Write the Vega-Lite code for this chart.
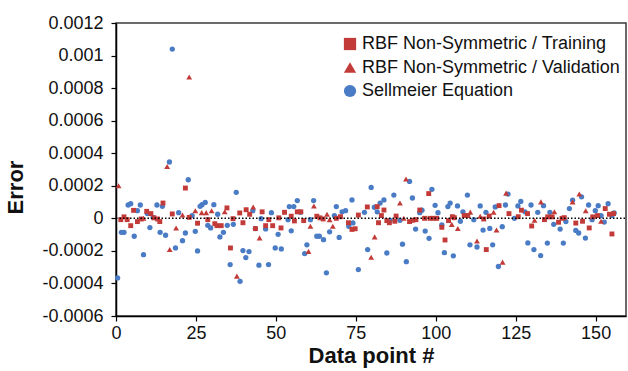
{
"$schema": "https://vega.github.io/schema/vega-lite/v6.json",
"width": 510, "height": 293,
"autosize": {"type": "none"},
"padding": {"left": 116, "top": 23, "right": 2, "bottom": 55},
"background": "#ffffff",
"config": {
  "font": "Liberation Sans",
  "view": {"stroke": "#3a3a3a", "strokeWidth": 1.5},
  "axis": {"domainColor": "#000000", "domainWidth": 1.5, "tickColor": "#000000", "tickWidth": 1.2, "tickSize": 5, "grid": false, "labelFontSize": 18, "labelColor": "#111111", "titleFontSize": 22, "titleFontWeight": "bold", "titleColor": "#111111", "labelBound": false, "labelFlush": false, "labelOverlap": false},
  "legend": {"orient": "none", "legendX": 225, "legendY": 12, "padding": 0, "labelFontSize": 18, "labelColor": "#111111", "symbolSize": 150, "rowPadding": 5.5, "labelOffset": 3, "symbolStrokeWidth": 0, "labelLimit": 400}
},
"datasets": {
  "sell": [
{"n":0.5,"e":-0.000366},{"n":1.7,"e":-0.000086},{"n":2.5,"e":-0.000086},{"n":3.8,"e":0.000082},{"n":4.6,"e":0.00009},{"n":5.7,"e":-0.00011},{"n":6.7,"e":0.000047},{"n":7.6,"e":0.000082},{"n":8.6,"e":-0.000223},{"n":9.8,"e":0.000029},{"n":10.6,"e":-0.000057},{"n":11.6,"e":0.000006},{"n":12.8,"e":0.000082},{"n":13.8,"e":-0.000086},{"n":14.5,"e":0.000074},{"n":15.5,"e":-0.000104},{"n":16.7,"e":0.000346},{"n":17.6,"e":0.00104},{"n":18.6,"e":-0.000182},{"n":19.6,"e":0.000035},{"n":20.8,"e":-0.000137},{"n":21.7,"e":-0.00009},{"n":22.6,"e":0.000237},{"n":23.8,"e":0.000017},{"n":24.8,"e":-0.00008},{"n":25.5,"e":-0.0002},{"n":26.3,"e":0.000074},{"n":26.9,"e":0.000084},{"n":27.9,"e":0.000098},{"n":28.7,"e":-0.000043},{"n":29.6,"e":-0.000059},{"n":30.6,"e":0.000084},{"n":31.8,"e":0.000025},{"n":32.5,"e":-0.000114},{"n":33.6,"e":-0.000086},{"n":34.8,"e":-0.000043},{"n":35.7,"e":-0.000284},{"n":36.7,"e":-0.000037},{"n":37.6,"e":0.00016},{"n":38.8,"e":-0.000387},{"n":39.7,"e":-0.000198},{"n":40.6,"e":-0.000241},{"n":41.6,"e":-0.000204},{"n":42.8,"e":0.000047},{"n":43.6,"e":-0.000063},{"n":44.7,"e":-0.000288},{"n":45.4,"e":-0.000002},{"n":46.8,"e":-0.000065},{"n":47.7,"e":-0.000284},{"n":48.6,"e":0.000035},{"n":49.8,"e":-0.000182},{"n":50.7,"e":-0.000098},{"n":51.7,"e":-0.000188},{"n":53.8,"e":-0.000008},{"n":54.2,"e":0.000072},{"n":54.8,"e":-0.000077},{"n":55.6,"e":0.000072},{"n":56.7,"e":0.000109},{"n":57.7,"e":0.000037},{"n":59.0,"e":-0.000217},{"n":59.7,"e":-0.000163},{"n":60.8,"e":-0.000008},{"n":61.8,"e":0.000109},{"n":62.8,"e":-0.00011},{"n":63.6,"e":-0.00011},{"n":64.9,"e":-0.000131},{"n":65.8,"e":-0.000335},{"n":66.8,"e":-0.000083},{"n":68.3,"e":0.000017},{"n":68.9,"e":0.000072},{"n":69.8,"e":-0.000117},{"n":70.7,"e":0.00004},{"n":71.8,"e":0.000047},{"n":72.8,"e":-0.000049},{"n":73.8,"e":0.000113},{"n":74.1,"e":-0.000028},{"n":75.8,"e":-0.000315},{"n":77.7,"e":0.000037},{"n":78.7,"e":-0.000192},{"n":79.8,"e":0.00019},{"n":80.8,"e":0.000068},{"n":81.7,"e":0.00004},{"n":82.6,"e":0.000094},{"n":83.8,"e":0.000113},{"n":84.7,"e":-0.000213},{"n":85.7,"e":-0.000012},{"n":86.9,"e":0.000143},{"n":88.8,"e":-0.000012},{"n":89.6,"e":-0.000159},{"n":90.8,"e":-0.000266},{"n":91.8,"e":0.000227},{"n":92.7,"e":0.000125},{"n":93.7,"e":-0.000066},{"n":95.0,"e":0.000035},{"n":95.7,"e":0.00005},{"n":96.7,"e":-0.000078},{"n":97.9,"e":-0.000123},{"n":98.8,"e":0.000178},{"n":99.8,"e":0.00008},{"n":100.7,"e":0.000035},{"n":101.9,"e":-0.000041},{"n":102.7,"e":-0.000211},{"n":103.8,"e":0.000072},{"n":104.5,"e":0.000094},{"n":105.5,"e":-0.00023},{"n":106.8,"e":0.000076},{"n":107.7,"e":-0.000018},{"n":108.5,"e":0.00004},{"n":109.9,"e":0.000143},{"n":110.7,"e":-0.000163},{"n":111.9,"e":-0.000008},{"n":112.9,"e":-0.000176},{"n":113.9,"e":0.000076},{"n":114.8,"e":-0.000072},{"n":115.7,"e":0.000037},{"n":116.9,"e":-0.000062},{"n":117.8,"e":-0.000163},{"n":118.6,"e":0.00007},{"n":119.6,"e":-0.000296},{"n":120.8,"e":-0.000051},{"n":121.8,"e":0.000082},{"n":122.6,"e":0.000149},{"n":124.6,"e":0},{"n":125.7,"e":0.000076},{"n":126.6,"e":0.000104},{"n":127.9,"e":0.00004},{"n":128.8,"e":-0.000151},{"n":129.8,"e":0.000082},{"n":130.7,"e":-0.000192},{"n":131.9,"e":0.000037},{"n":132.8,"e":-0.000229},{"n":133.7,"e":0.000078},{"n":134.9,"e":-0.000152},{"n":135.7,"e":0.000037},{"n":136.9,"e":-0.000037},{"n":138.9,"e":-0.000066},{"n":139.9,"e":-0.000152},{"n":140.7,"e":-0.00002},{"n":141.8,"e":0.00006},{"n":142.8,"e":0.000111},{"n":143.8,"e":-0.000074},{"n":144.7,"e":-0.00009},{"n":145.6,"e":0.000132},{"n":146.8,"e":-0.000121},{"n":147.8,"e":0.000082},{"n":148.9,"e":-0.000008},{"n":149.9,"e":0.000047},{"n":150.8,"e":0.000078},{"n":151.7,"e":0.000017},{"n":152.7,"e":-0.000023},{"n":153.9,"e":0.00009},{"n":155.1,"e":0.000017},{"n":155.8,"e":0.000033}
  ],
  "train": [
{"n":1.5,"e":-0.000008},{"n":2.5,"e":0.000009},{"n":3.5,"e":-0.000008},{"n":4.6,"e":-0.000045},{"n":5.5,"e":0.000049},{"n":6.7,"e":-0.00002},{"n":7.9,"e":-0.000004},{"n":9.6,"e":0.000043},{"n":10.9,"e":0.000029},{"n":11.9,"e":0.000003},{"n":13.0,"e":-0.000004},{"n":13.7,"e":-0.00002},{"n":14.7,"e":0.000094},{"n":17.6,"e":0.000027},{"n":21.7,"e":0.000186},{"n":22.9,"e":0.000006},{"n":25.5,"e":-0.00003},{"n":28.7,"e":-0.000008},{"n":30.9,"e":-0.000033},{"n":31.6,"e":-0.000045},{"n":32.9,"e":-0.000045},{"n":34.7,"e":0.000064},{"n":35.8,"e":-0.000182},{"n":36.6,"e":-0.000002},{"n":38.7,"e":0.000033},{"n":39.7,"e":-0.000027},{"n":40.7,"e":0.000053},{"n":41.8,"e":0.000025},{"n":43.6,"e":-0.000063},{"n":45.7,"e":0.00004},{"n":46.8,"e":-0.000045},{"n":47.8,"e":-0.000008},{"n":49.0,"e":-0.000045},{"n":50.9,"e":0.000003},{"n":51.6,"e":-0.000059},{"n":52.7,"e":0.000037},{"n":54.8,"e":0.000013},{"n":55.8,"e":-0.000016},{"n":56.7,"e":0.00004},{"n":57.8,"e":0.00004},{"n":58.7,"e":-0.000014},{"n":62.8,"e":0.000013},{"n":63.8,"e":0.000003},{"n":64.8,"e":-0.000004},{"n":68.9,"e":0},{"n":70.2,"e":0.00001},{"n":72.7,"e":-0.000027},{"n":73.8,"e":-0.000068},{"n":74.8,"e":-0.000064},{"n":75.8,"e":0.00002},{"n":78.6,"e":0.00007},{"n":81.7,"e":0.000072},{"n":82.1,"e":-0.000027},{"n":83.0,"e":0.000017},{"n":83.8,"e":0.000051},{"n":84.7,"e":-0.000014},{"n":85.5,"e":-0.000027},{"n":87.2,"e":-0.000018},{"n":87.6,"e":0.000014},{"n":91.8,"e":-0.00002},{"n":92.8,"e":-0.000012},{"n":93.8,"e":-0.000008},{"n":95.0,"e":0.000051},{"n":96.5,"e":0},{"n":97.8,"e":0.000152},{"n":98.2,"e":0},{"n":99.3,"e":0},{"n":100.3,"e":0},{"n":101.9,"e":-0.000055},{"n":102.9,"e":-0.000133},{"n":104.0,"e":-0.000014},{"n":105.2,"e":0.00001},{"n":105.8,"e":0.000004},{"n":108.9,"e":0.000017},{"n":110.0,"e":0.000017},{"n":115.0,"e":-0.000004},{"n":115.8,"e":-0.000192},{"n":116.7,"e":0.000014},{"n":119.8,"e":0.000078},{"n":122.9,"e":0.000029},{"n":125.8,"e":0.00001},{"n":126.8,"e":0.00005},{"n":128.7,"e":0.000029},{"n":130.0,"e":-0.000047},{"n":134.0,"e":-0.000008},{"n":135.0,"e":0.000009},{"n":136.4,"e":0.000009},{"n":138.4,"e":-0.000024},{"n":139.5,"e":0},{"n":140.2,"e":0.000004},{"n":143.8,"e":-0.000029},{"n":145.9,"e":-0.000018},{"n":148.0,"e":-0.000059},{"n":149.1,"e":0.000009},{"n":150.6,"e":0.000017},{"n":153.0,"e":0.00006},{"n":154.3,"e":0.000025},{"n":155.1,"e":-0.000096},{"n":155.6,"e":0.000029}
  ],
  "valid": [
{"n":0.8,"e":0.0002},{"n":8.6,"e":0},{"n":16.0,"e":0.000319},{"n":16.8,"e":-0.000192},{"n":18.8,"e":-0.000059},{"n":20.8,"e":0.00002},{"n":22.9,"e":0.000868},{"n":24.8,"e":0.000047},{"n":26.8,"e":0.000035},{"n":28.2,"e":0.000035},{"n":29.9,"e":0.000047},{"n":34.0,"e":0.00004},{"n":37.8,"e":-0.000355},{"n":42.9,"e":0.00007},{"n":44.9,"e":-0.00012},{"n":60.2,"e":-0.000203},{"n":60.8,"e":-0.000049},{"n":61.9,"e":0.000076},{"n":66.0,"e":0.000025},{"n":66.8,"e":-0.000008},{"n":67.8,"e":-0.000049},{"n":79.8,"e":-0.000239},{"n":80.9,"e":-0.000114},{"n":88.8,"e":0.000094},{"n":90.0,"e":0},{"n":90.7,"e":0.000242},{"n":105.0,"e":-0.000037},{"n":106.9,"e":-0.000063},{"n":110.8,"e":0.000038},{"n":112.9,"e":-0.000139},{"n":113.9,"e":0.000013},{"n":118.1,"e":0.000037},{"n":119.0,"e":-0.000072},{"n":120.9,"e":-0.000269},{"n":122.0,"e":0.000155},{"n":130.9,"e":-0.000012},{"n":132.9,"e":0.000101},{"n":137.1,"e":0.00004},{"n":142.8,"e":0.000101},{"n":144.9,"e":0.000149},{"n":146.9,"e":0.000047},{"n":151.7,"e":-0.000018}
  ]
},
"encoding": {
  "x": {"field": "n", "type": "quantitative", "scale": {"domain": [0, 159.5], "nice": false, "zero": false},
        "axis": {"values": [0, 25, 50, 75, 100, 125, 150], "title": "Data point #", "labelPadding": 3, "titlePadding": 3, "labelOverlap": false}},
  "y": {"field": "e", "type": "quantitative", "scale": {"domain": [-0.0006, 0.0012], "nice": false, "zero": false},
        "axis": {"values": [-0.0006, -0.0004, -0.0002, 0, 0.0002, 0.0004, 0.0006, 0.0008, 0.001, 0.0012], "labelExpr": "'' + datum.value", "title": "Error", "labelPadding": 8, "titlePadding": 14, "titleY": 164, "labelOverlap": false, "tickCount": 10}}
},
"layer": [
  {
    "data": {"name": "sell"},
    "mark": {"type": "point", "filled": true, "size": 28, "opacity": 1},
    "encoding": {
      "color": {"datum": "Sellmeier Equation", "type": "nominal",
                "scale": {"domain": ["RBF Non-Symmetric / Training", "RBF Non-Symmetric / Validation", "Sellmeier Equation"], "range": ["#c23b38", "#c23b38", "#4a7cc6"]},
                "legend": {"title": null}},
      "shape": {"datum": "Sellmeier Equation", "type": "nominal",
                "scale": {"domain": ["RBF Non-Symmetric / Training", "RBF Non-Symmetric / Validation", "Sellmeier Equation"], "range": ["square", "triangle-up", "circle"]},
                "legend": {"title": null}}
    }
  },
  {
    "data": {"name": "train"},
    "mark": {"type": "point", "filled": true, "size": 24, "opacity": 1},
    "encoding": {
      "color": {"datum": "RBF Non-Symmetric / Training", "type": "nominal"},
      "shape": {"datum": "RBF Non-Symmetric / Training", "type": "nominal"}
    }
  },
  {
    "data": {"name": "valid"},
    "mark": {"type": "point", "filled": true, "size": 34, "opacity": 1},
    "encoding": {
      "color": {"datum": "RBF Non-Symmetric / Validation", "type": "nominal"},
      "shape": {"datum": "RBF Non-Symmetric / Validation", "type": "nominal"}
    }
  },
  {
    "data": {"values": [{"n": 0, "e": 0}]},
    "mark": {"type": "rule", "color": "#000000", "strokeDash": [1.5, 2], "strokeWidth": 1.5},
    "encoding": {"x2": {"datum": 159.5}}
  }
]
}
